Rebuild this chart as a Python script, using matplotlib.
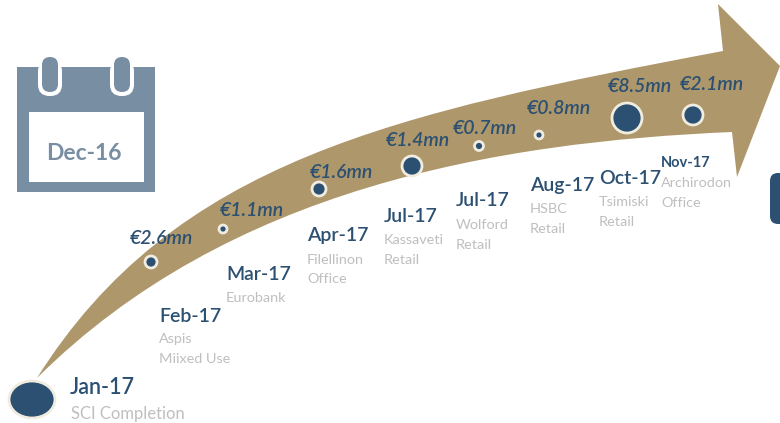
import matplotlib
matplotlib.use("Agg")
import matplotlib.pyplot as plt
from matplotlib.patches import Circle, Ellipse, FancyBboxPatch, PathPatch, Rectangle
from matplotlib.path import Path

plt.rcParams['font.family'] = ['Lato', 'DejaVu Sans']

NAVY = "#2b5072"
GOLD = "#ae976b"
SLATE = "#788ea2"
GREY = "#bfbfbf"
RIM = "#f0ecdf"

# milestones along the arrow
dates = ["Jan-17", "Feb-17", "Mar-17", "Apr-17", "Jul-17", "Jul-17", "Aug-17", "Oct-17", "Nov-17"]
details = [["SCI Completion"], ["Aspis", "Miixed Use"], ["Eurobank"], ["Filellinon", "Office"],
           ["Kassaveti", "Retail"], ["Wolford", "Retail"], ["HSBC", "Retail"],
           ["Tsimiski", "Retail"], ["Archirodon", "Office"]]
amounts = ["€2.6mn", "€1.1mn", "€1.6mn", "€1.4mn", "€0.7mn", "€0.8mn", "€8.5mn", "€2.1mn"]

# layout, in pixels from the top left
dot_x = [151, 223, 319, 412, 479, 539, 627, 693]
dot_y = [262, 229, 189, 166, 146, 135, 118, 115]
dot_r = [6, 4, 7, 10, 4.5, 4, 15, 10]
amount_x = [162, 252, 342, 418, 485, 559, 640, 712]
amount_y = [238, 211, 172, 141, 129, 109, 87, 85]
date_x = [70, 159, 226, 307, 384, 456, 530, 599, 661]
date_y = [388, 316, 275, 236, 217, 201, 186, 179, 163]
date_size = [15.5, 14, 14, 14, 14, 14, 14, 14, 10.5]
detail_y = [[414], [339, 359], [298], [260, 279], [240, 260], [225, 245], [209, 229], [202, 222], [183, 203]]

fig = plt.figure(figsize=(7.8, 4.23), dpi=100)
ax = fig.add_axes([0, 0, 1, 1])
ax.set_xlim(0, 780)
ax.set_ylim(423, 0)
ax.axis('off')

# curved arrow
verts = [(37, 378),
         (174, 160), (395, 113), (723, 51),
         (718, 4), (780, 66), (737, 177), (732, 132),
         (497, 142), (228, 188), (37, 378)]
codes = [Path.MOVETO,
         Path.CURVE4, Path.CURVE4, Path.CURVE4,
         Path.LINETO, Path.LINETO, Path.LINETO, Path.LINETO,
         Path.CURVE4, Path.CURVE4, Path.CURVE4]
ax.add_patch(PathPatch(Path(verts, codes), fc=GOLD, ec='none', zorder=1))

# calendar icon
ax.add_patch(Rectangle((17, 67), 138, 125, fc=SLATE, ec='none'))
ax.add_patch(Rectangle((29, 112), 115, 70, fc='white', ec='none'))
for ring_x in (50, 122):
    ax.add_patch(FancyBboxPatch((ring_x - 12, 60), 24, 36, boxstyle="round,pad=0,rounding_size=11.5",
                                fc='white', ec='none', zorder=2))
    ax.add_patch(Rectangle((ring_x - 12, 55), 24, 12, fc='white', ec='none', zorder=2))
    ax.add_patch(FancyBboxPatch((ring_x - 8, 57), 16, 35, boxstyle="round,pad=0,rounding_size=8",
                                fc=SLATE, ec='none', zorder=3))
ax.text(83.5, 153, "Dec-16", color=SLATE, fontsize=16.5, fontweight='bold', ha='center', va='center')

# start marker and the clipped box at the right edge
ax.add_patch(Ellipse((32, 399.5), 46, 37, fc=NAVY, ec=RIM, lw=2, zorder=3))
ax.add_patch(FancyBboxPatch((770, 173), 30, 51, boxstyle="round,pad=0,rounding_size=8",
                            fc=NAVY, ec='none', zorder=2))

for x, y, r in zip(dot_x, dot_y, dot_r):
    ax.add_patch(Circle((x, y), r, fc=NAVY, ec=RIM, lw=2, zorder=3))

for x, y, s in zip(amount_x, amount_y, amounts):
    ax.text(x, y, s, color=NAVY, fontsize=14, style='italic', fontweight='semibold',
            ha='center', va='center', zorder=4)

for i, d in enumerate(dates):
    weight = 'bold' if d == "Nov-17" else 'semibold'
    ax.text(date_x[i], date_y[i], d, color=NAVY, fontsize=date_size[i], fontweight=weight, ha='left', va='center')
    for line, y in zip(details[i], detail_y[i]):
        ax.text(date_x[i] + (1 if i == 0 else 0), y, line, color=GREY,
                fontsize=12 if i == 0 else 10.4, ha='left', va='center')

fig.savefig("out.png", dpi=100)
